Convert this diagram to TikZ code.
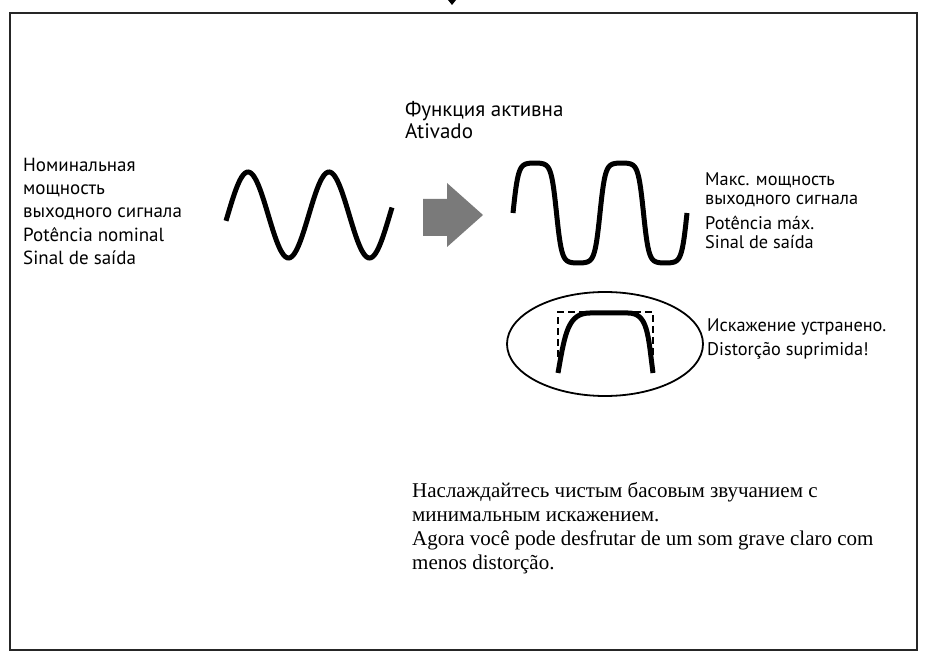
\documentclass[tikz,border=0pt]{standalone}
\usepackage{fontspec}
\setmainfont{PT Sans}
\newfontfamily\serifont{Liberation Serif}
\usetikzlibrary{shapes.geometric}
\begin{document}
\begin{tikzpicture}[x=1pt,y=-1pt,
  lbl/.style={anchor=base west, inner sep=0pt, font=\fontsize{19}{22}\selectfont},
  rlbl/.style={anchor=base west, inner sep=0pt, font=\fontsize{18.3}{21}\selectfont},
  toplbl/.style={anchor=base west, inner sep=0pt, font=\fontsize{21}{24}\selectfont},
  serlbl/.style={anchor=base west, inner sep=0pt, font=\serifont\fontsize{21}{24}\selectfont},
  wave/.style={line width=5pt, black},
  frame/.style={line width=1.5pt, black!85}]
\useasboundingbox (0,0) rectangle (927,660);
% frame and incoming arrow tip
\draw[frame] (10,13) rectangle (917,650);
\fill (448,0) -- (456,0) -- (452,5) -- cycle;
% left text
\node[lbl] (l1) at (23,172) {Номинальная};
\node[lbl] (l2) at (23,195) {мощность};
\node[lbl] (l3) at (23,218) {выходного сигнала};
\node[lbl] (l4) at (23,242) {Potência nominal};
\node[lbl] (l5) at (23,265) {Sinal de saída};
% left sine wave
\draw[wave] plot[domain=226:392, samples=120, variable=\x] (\x,{215-43*cos((\x-248)*4.44444)});
% top text
\node[toplbl] (t1) at (405,117) {Функция активна};
\node[toplbl] (t2) at (405,139) {Ativado};
% gray arrow
\fill[black!52] (423,199) -- (447,199) -- (447,183) -- (483,215) -- (447,247) -- (447,236) -- (423,236) -- cycle;
% clipped wave
\draw[wave] plot[domain=513:687, samples=240, variable=\x] (\x,{213-50*tanh(2.6*sin((\x-513)*4.13793))/tanh(2.6)});
% right text
\node[rlbl] (r1) at (705,186) {Макс. мощность};
\node[rlbl] (r2) at (705,205) {выходного сигнала};
\node[rlbl] (r3) at (705,230) {Potência máx.};
\node[rlbl] (r4) at (705,249) {Sinal de saída};
% ellipse detail
\node[draw, ellipse, line width=1.8pt, minimum width=196pt, minimum height=104pt, inner sep=0pt] (ell) at (605,344) {};
\draw[line width=1.5pt, dash pattern=on 7pt off 4pt] (558,357) -- (558,312) -- (653,312) -- (653,357);
\draw[wave] (558,373) .. controls (565,333) and (568,313) .. (590,313) -- (628,313) .. controls (648,313) and (648,335) .. (653,373);
\node[rlbl] (d1) at (707,332) {Искажение устранено.};
\node[rlbl] (d2) at (707,356) {Distorção suprimida!};
% bottom text
\node[serlbl] (b1) at (412,497) {Наслаждайтесь чистым басовым звучанием с};
\node[serlbl] (b2) at (412,521) {минимальным искажением.};
\node[serlbl] (b3) at (412,545) {Agora você pode desfrutar de um som grave claro com};
\node[serlbl] (b4) at (412,569) {menos distorção.};
\end{tikzpicture}
\end{document}
